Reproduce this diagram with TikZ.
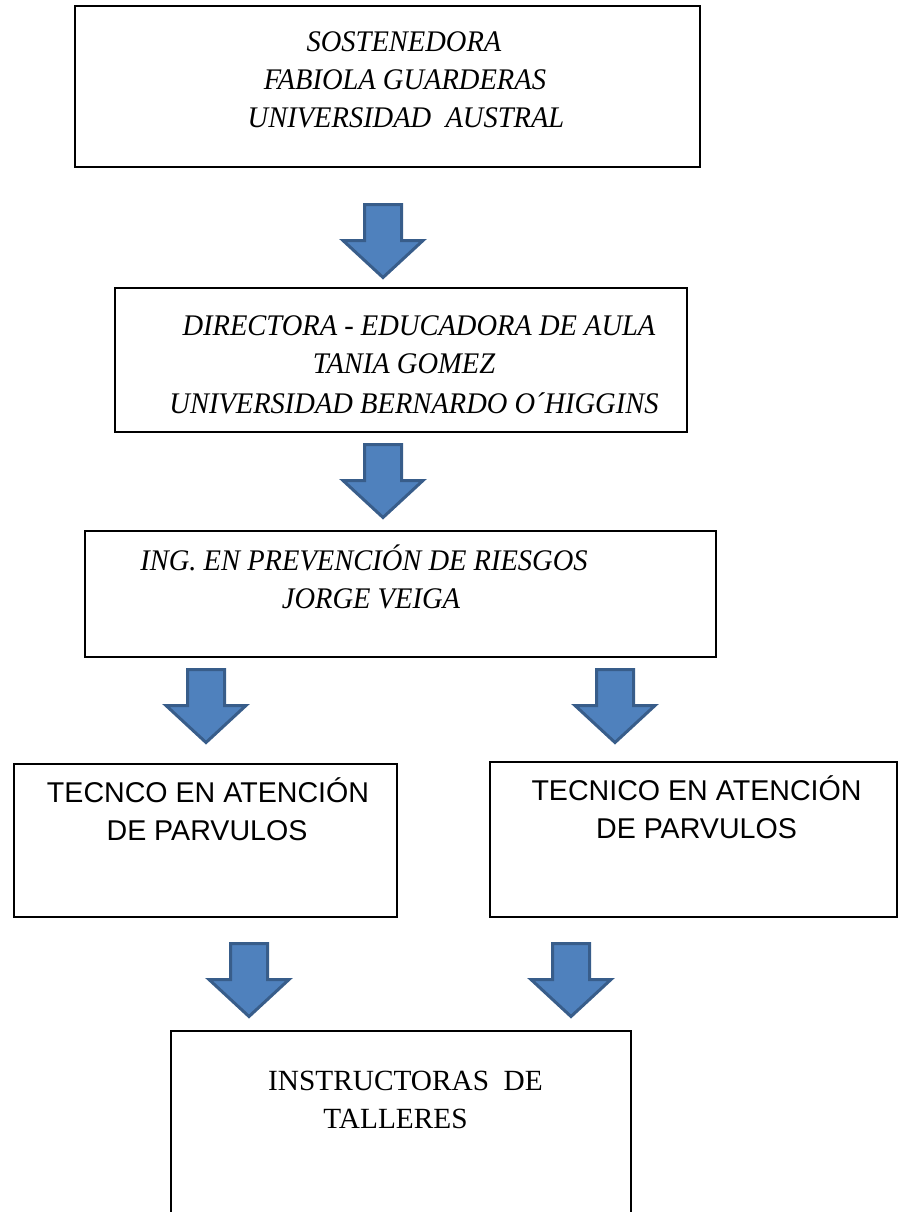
\documentclass[tikz,border=0pt]{standalone}
\usepackage{fontspec}
\setmainfont{Liberation Serif}
\newfontfamily\arialf{Liberation Sans}
\begin{document}
\begin{tikzpicture}[x=1pt,y=-1pt,
  box/.style={draw=black,line width=1.8pt,rectangle,inner sep=0pt},
  itxt/.style={font=\fontsize{28.5}{30}\selectfont\itshape,anchor=base,inner sep=0pt,yscale=1.05},
  stxt/.style={font=\arialf\fontsize{28.6}{34}\selectfont,anchor=base,inner sep=0pt},
  rtxt/.style={font=\fontsize{29.3}{30}\selectfont,anchor=base,inner sep=0pt},
  blk/.style={fill={rgb,255:red,79;green,129;blue,189},draw={rgb,255:red,56;green,93;blue,138},line width=3pt,line join=miter}]
\useasboundingbox (0,0) rectangle (899,1212);
\newcommand{\blkarrow}[2]{\draw[blk] (#1-18.5,#2) -- (#1+18.5,#2) -- (#1+18.5,#2+36) -- (#1+40,#2+36) -- (#1,#2+73) -- (#1-40,#2+36) -- (#1-18.5,#2+36) -- cycle;}
% boxes
\node[box,minimum width=625,minimum height=161] (b1) at (387.5,86.5) {};
\node[box,minimum width=572,minimum height=144] (b2) at (401,360) {};
\node[box,minimum width=631,minimum height=126] (b3) at (400.5,594) {};
\node[box,minimum width=383,minimum height=153] (b4l) at (205.5,840.5) {};
\node[box,minimum width=407,minimum height=155] (b4r) at (693.5,839.5) {};
\node[box,minimum width=460,minimum height=200] (b5) at (401,1131) {};
% texts
\node[itxt] (t11) at (404,52) {SOSTENEDORA};
\node[itxt] (t12) at (405,90) {FABIOLA GUARDERAS};
\node[itxt] (t13) at (406,128) {UNIVERSIDAD\ \ AUSTRAL};
\node[itxt] (t21) at (419,335) {DIRECTORA - EDUCADORA DE AULA};
\node[itxt] (t22) at (404,373) {TANIA GOMEZ};
\node[itxt] (t23) at (414,413) {UNIVERSIDAD BERNARDO O´HIGGINS};
\node[itxt] (t31) at (364,570) {ING. EN PREVENCIÓN DE RIESGOS};
\node[itxt] (t32) at (371,608) {JORGE VEIGA};
\node[stxt] (t41) at (208,802) {TECNCO EN ATENCIÓN};
\node[stxt] (t42) at (207,840) {DE PARVULOS};
\node[stxt] (t43) at (696.5,800) {TECNICO EN ATENCIÓN};
\node[stxt] (t44) at (696.5,838) {DE PARVULOS};
\node[rtxt] (t51) at (405.5,1090) {INSTRUCTORAS\ \ DE};
\node[rtxt] (t52) at (395.5,1128) {TALLERES};
% arrows
\blkarrow{383}{204.5}
\blkarrow{383}{444.5}
\blkarrow{206}{669.5}
\blkarrow{615}{669.5}
\blkarrow{249}{943.5}
\blkarrow{571}{943.5}
\end{tikzpicture}
\end{document}
